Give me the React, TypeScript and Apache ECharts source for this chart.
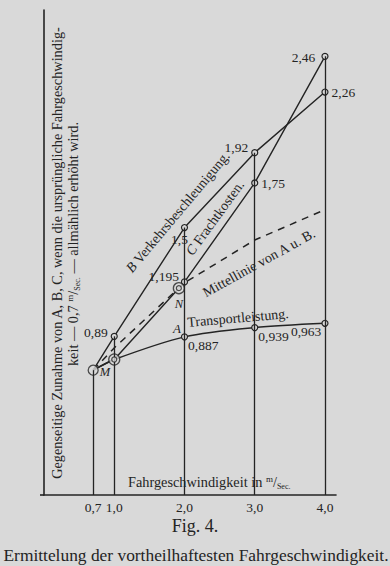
import React, { useEffect, useRef } from 'react';
import * as echarts from 'echarts';

// ---- data ----
const xValues = [0.7, 1.0, 2.0, 3.0, 4.0];
const xTickLabels = ['0,7', '1,0', '2,0', '3,0', '4,0'];
const transportA = [0.7, 0.76, 0.887, 0.939, 0.963];
const beschleunigungB = [0.7, 0.89, 1.5, 1.92, 2.26];
const frachtC = [0.7, 0.76, 1.195, 1.75, 2.46];
const mittellinie = [0.7, 0.825, 1.19, 1.43, 1.6];
const pointM = [0.7, 0.7];
const pointN = [1.92, 1.16];
const doubleCircles = [[1.0, 0.76], pointN];

const INK = '#242424';
const PAPER = '#d9d9d9';
const SERIF = '"Liberation Serif", "DejaVu Serif", serif';

const fmt = (v: number) => String(v).replace('.', ',');

type PointStyle = { marker?: boolean; pos?: string; offset?: number[] } | null;

// styling per point (marker / label placement)
const styleA: PointStyle[] = [
  null,
  { marker: false, pos: 'right', offset: [0, 5] },
  { marker: true, pos: 'right', offset: [-3, 9] },
  { marker: true, pos: 'right', offset: [-3, 9] },
  { marker: true, pos: 'left', offset: [3, 8] },
];
const styleB: PointStyle[] = [
  { marker: false, pos: 'left', offset: [-2, -4] },
  { marker: true, pos: 'left', offset: [0, -4] },
  { marker: true, pos: 'bottom', offset: [-5, -2] },
  { marker: true, pos: 'left', offset: [0, -5] },
  { marker: true, pos: 'right', offset: [0, 0] },
];
const styleC: PointStyle[] = [
  null,
  null,
  { marker: true, pos: 'left', offset: [1, -5] },
  { marker: true, pos: 'right', offset: [0, 1] },
  { marker: true, pos: 'left', offset: [-3, 1] },
];

function build(ys: number[], st: PointStyle[]) {
  return ys.map((y, i) => {
    const s = st[i];
    return {
      value: [xValues[i], y],
      symbol: s && s.marker ? 'circle' : 'none',
      symbolSize: 6,
      label: s && s.pos
        ? { show: true, position: s.pos, offset: s.offset, distance: 3, formatter: fmt(y) }
        : { show: false },
    };
  });
}

const labelFont = { fontFamily: SERIF, fontSize: 13.5, color: INK };

export default function App() {
  const ref = useRef<HTMLDivElement>(null);
  useEffect(() => {
    document.body.style.margin = '0';
    if (!ref.current) return;
    const chart = echarts.init(ref.current, null, { renderer: 'svg' });
    const lineSeries = (name: string, ys: number[], st: PointStyle[], extra: any = {}) => ({
      name,
      type: 'line',
      z: 3,
      data: build(ys, st),
      lineStyle: { color: INK, width: 1.4 },
      itemStyle: { color: PAPER, borderColor: INK, borderWidth: 1.2 },
      label: labelFont,
      ...extra,
    });
    const verticals = xValues.map((x, i) => [
      { coord: [x, 0] },
      { coord: [x, Math.max(transportA[i], beschleunigungB[i], frachtC[i])] },
    ]);
    const PI = Math.PI;
    const deg = (d: number) => (d * PI) / 180;
    const unitRich = {
      sup: { fontFamily: SERIF, fontSize: 9, fill: INK, verticalAlign: 'top', lineHeight: 16 },
      sub: { fontFamily: SERIF, fontSize: 8, fill: INK, verticalAlign: 'bottom', lineHeight: 16 },
    };
    const italic = (size: number) => ({ i: { fontFamily: SERIF, fontSize: size, fontStyle: 'italic', fill: INK } });
    chart.setOption({
      animation: false,
      backgroundColor: PAPER,
      grid: { left: 44, right: 54, top: 10, bottom: 71, containLabel: false },
      xAxis: {
        type: 'value',
        min: 0,
        max: 4.157,
        interval: 0.1,
        splitLine: { show: false },
        axisTick: { show: false },
        axisLine: { show: true, lineStyle: { color: INK, width: 1.6 } },
        axisLabel: {
          show: true,
          margin: 5,
          showMaxLabel: false,
          fontFamily: SERIF,
          fontSize: 13.5,
          color: INK,
          formatter: (v: number) => {
            const i = xValues.findIndex((t) => Math.abs(t - v) < 1e-6);
            return i >= 0 ? xTickLabels[i] : '';
          },
        },
      },
      yAxis: {
        type: 'value',
        min: 0,
        max: 2.72,
        splitLine: { show: false },
        axisTick: { show: false },
        axisLabel: { show: false },
        axisLine: { show: true, onZero: false, lineStyle: { color: INK, width: 1.6 } },
      },
      series: [
        {
          name: 'verticals',
          type: 'line',
          data: [],
          z: 1,
          markLine: {
            silent: true,
            symbol: ['none', 'none'],
            label: { show: false },
            lineStyle: { color: INK, width: 1.3, type: 'solid' },
            data: verticals,
          },
        },
        {
          name: 'Mittellinie von A u. B.',
          type: 'line',
          z: 2,
          symbol: 'none',
          data: mittellinie.map((y, i) => [xValues[i], y]),
          lineStyle: { color: INK, width: 1.5, type: [7, 6] },
        },
        lineSeries('A Transportleistung', transportA, styleA, { smooth: 0.3 }),
        lineSeries('B Verkehrsbeschleunigung', beschleunigungB, styleB),
        lineSeries('C Frachtkosten', frachtC, styleC),
        {
          name: 'M',
          type: 'scatter',
          z: 4,
          symbol: 'circle',
          symbolSize: 10,
          data: [pointM],
          itemStyle: { color: PAPER, borderColor: INK, borderWidth: 1.3 },
        },
        {
          name: 'outer',
          type: 'scatter',
          z: 4,
          symbol: 'circle',
          symbolSize: 11,
          data: doubleCircles,
          itemStyle: { color: PAPER, borderColor: INK, borderWidth: 1.3 },
        },
        {
          name: 'inner',
          type: 'scatter',
          z: 5,
          symbol: 'circle',
          symbolSize: 5,
          data: doubleCircles,
          itemStyle: { color: PAPER, borderColor: INK, borderWidth: 1.2 },
        },
      ],
      graphic: [
        {
          type: 'line', shape: { x1: 40, y1: 495, x2: 44, y2: 495 },
          style: { stroke: INK, lineWidth: 1.6 },
        },
        {
          type: 'text', x: 57, y: 253, rotation: PI / 2,
          style: {
            text: 'Gegenseitige Zunahme von A, B, C, wenn die ursprüngliche Fahrgeschwindig-',
            fontFamily: SERIF, fontSize: 14.3, fill: INK, align: 'center', verticalAlign: 'middle',
          },
        },
        {
          type: 'text', x: 73, y: 244, rotation: PI / 2,
          style: {
            text: 'keit — 0,7 {sup|m}/{sub|Sec.} — allmählich erhöht wird.',
            fontFamily: SERIF, fontSize: 14.3, fill: INK, align: 'center', verticalAlign: 'middle',
            rich: unitRich,
          },
        },
        {
          type: 'text', x: 128, y: 482,
          style: {
            text: 'Fahrgeschwindigkeit in {sup|m}/{sub|Sec.}',
            fontFamily: SERIF, fontSize: 14.3, fill: INK, align: 'left', verticalAlign: 'middle',
            rich: unitRich,
          },
        },
        {
          type: 'text', x: 195, y: 526,
          style: { text: 'Fig. 4.', fontFamily: SERIF, fontSize: 18, fill: INK, align: 'center', verticalAlign: 'middle' },
        },
        {
          type: 'text', x: 196, y: 555,
          style: {
            text: 'Ermittelung der vortheilhaftesten Fahrgeschwindigkeit.',
            fontFamily: SERIF, fontSize: 17.4, fill: INK, align: 'center', verticalAlign: 'middle',
          },
        },
        {
          type: 'text', x: 178, y: 212, rotation: deg(50),
          style: {
            text: '{i|B} Verkehrsbeschleunigung.',
            fontFamily: SERIF, fontSize: 14, fill: INK, align: 'center', verticalAlign: 'middle',
            rich: italic(14),
          },
        },
        {
          type: 'text', x: 215, y: 218, rotation: deg(54),
          style: {
            text: '{i|C} Frachtkosten.',
            fontFamily: SERIF, fontSize: 14, fill: INK, align: 'center', verticalAlign: 'middle',
            rich: italic(14),
          },
        },
        {
          type: 'text', x: 259, y: 263, rotation: deg(29),
          style: {
            text: 'Mittellinie von A u. B.',
            fontFamily: SERIF, fontSize: 14, fill: INK, align: 'center', verticalAlign: 'middle',
          },
        },
        {
          type: 'text', x: 238, y: 318, rotation: deg(5),
          style: {
            text: 'Transportleistung.',
            fontFamily: SERIF, fontSize: 14, fill: INK, align: 'center', verticalAlign: 'middle',
          },
        },
        {
          type: 'text', x: 105, y: 372,
          style: { text: 'M', fontFamily: SERIF, fontSize: 12.5, fontStyle: 'italic', fill: INK, align: 'center', verticalAlign: 'middle' },
        },
        {
          type: 'text', x: 179, y: 304,
          style: { text: 'N', fontFamily: SERIF, fontSize: 12.5, fontStyle: 'italic', fill: INK, align: 'center', verticalAlign: 'middle' },
        },
        {
          type: 'text', x: 177, y: 328,
          style: { text: 'A', fontFamily: SERIF, fontSize: 13, fontStyle: 'italic', fill: INK, align: 'center', verticalAlign: 'middle' },
        },
      ],
    });
    return () => chart.dispose();
  }, []);
  return <div ref={ref} style={{ width: 390, height: 566, background: PAPER }} />;
}
